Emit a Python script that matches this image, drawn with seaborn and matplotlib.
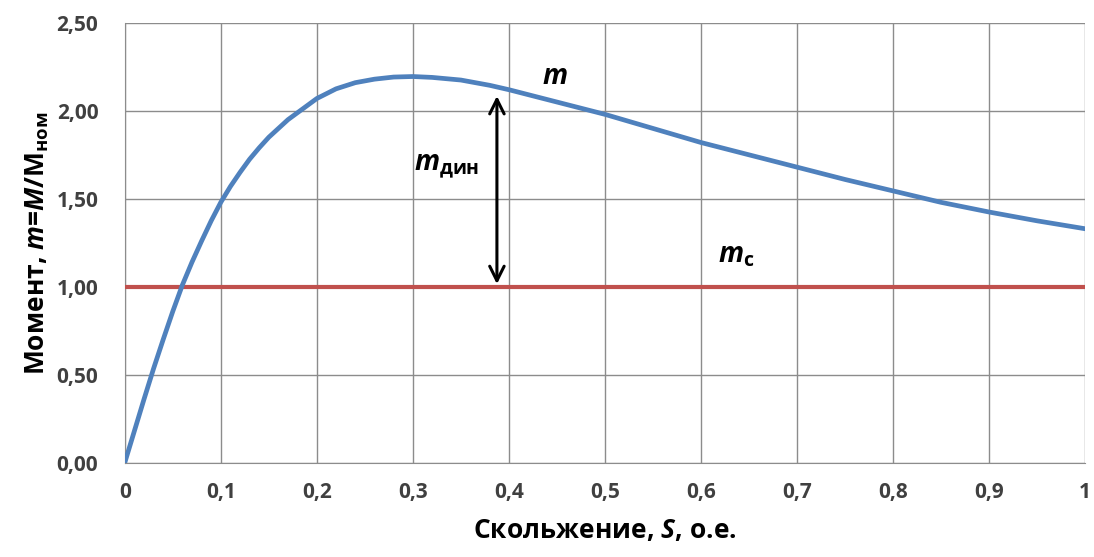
import matplotlib
matplotlib.use("Agg")
import matplotlib.pyplot as plt
import seaborn as sns
import pandas as pd

# ---- data ----
slip = [0.00, 0.01, 0.02, 0.03, 0.04, 0.05, 0.06, 0.07, 0.08, 0.09, 0.10,
        0.11, 0.12, 0.13, 0.14, 0.15, 0.16, 0.17, 0.18, 0.19, 0.20,
        0.22, 0.24, 0.26, 0.28, 0.30, 0.32, 0.35, 0.38, 0.40,
        0.45, 0.50, 0.55, 0.60, 0.65, 0.70, 0.75, 0.80, 0.85, 0.90, 0.95, 1.00]
moment = [0.00, 0.18, 0.36, 0.535, 0.70, 0.86, 1.01, 1.14, 1.26, 1.375, 1.48,
          1.57, 1.65, 1.725, 1.79, 1.85, 1.90, 1.95, 1.99, 2.03, 2.07,
          2.125, 2.16, 2.18, 2.192, 2.195, 2.19, 2.175, 2.145, 2.12,
          2.05, 1.98, 1.90, 1.82, 1.75, 1.68, 1.61, 1.545, 1.48, 1.425, 1.375, 1.33]
load_slip = [0.0, 1.0]
load_moment = [1.0, 1.0]

x_ticks = [0, 0.1, 0.2, 0.3, 0.4, 0.5, 0.6, 0.7, 0.8, 0.9, 1.0]
x_labels = ["0", "0,1", "0,2", "0,3", "0,4", "0,5", "0,6", "0,7", "0,8", "0,9", "1"]
y_ticks = [0.0, 0.5, 1.0, 1.5, 2.0, 2.5]
y_labels = ["0,00", "0,50", "1,00", "1,50", "2,00", "2,50"]

arrow_s = 0.3875
arrow_bottom = 1.0
arrow_top = 2.10

# ---- style ----
sns.set_style("whitegrid")
plt.rcParams["font.family"] = ["Open Sans", "DejaVu Sans"]
plt.rcParams["font.weight"] = "bold"
plt.rcParams["mathtext.fontset"] = "custom"
plt.rcParams["mathtext.rm"] = "Open Sans:bold"
plt.rcParams["mathtext.it"] = "Open Sans:italic:bold"
plt.rcParams["mathtext.bf"] = "Open Sans:bold"

fig = plt.figure(figsize=(10.94, 5.57), dpi=100)
ax = fig.add_axes([0.114, 0.169, 0.878, 0.79])

df = pd.DataFrame({"s": slip, "m": moment})
dfc = pd.DataFrame({"s": load_slip, "m": load_moment})
sns.lineplot(data=dfc, x="s", y="m", ax=ax, color="#C0504D", linewidth=3.0, zorder=3)
sns.lineplot(data=df, x="s", y="m", ax=ax, color="#4F81BD", linewidth=3.4, zorder=4)

ax.set_xlim(0, 1)
ax.set_ylim(0, 2.5)
ax.set_xticks(x_ticks)
ax.set_xticklabels(x_labels)
ax.set_yticks(y_ticks)
ax.set_yticklabels(y_labels)
ax.grid(True, color="#8c8c8c", linewidth=1.0)
for sp in ax.spines.values():
    sp.set_visible(False)
ax.spines["left"].set_visible(True)
ax.spines["bottom"].set_visible(True)
ax.spines["left"].set_color("#8c8c8c")
ax.spines["bottom"].set_color("#8c8c8c")
ax.tick_params(axis="both", which="major", length=7, width=1.0, color="#8c8c8c",
               labelsize=15, labelcolor="#404040", direction="out")
ax.tick_params(axis="x", pad=7)
ax.tick_params(axis="y", pad=12)
for lab in ax.get_xticklabels() + ax.get_yticklabels():
    lab.set_fontweight("bold")

ax.set_xlabel("Скольжение, $S$, о.е.", fontsize=19, fontweight="bold", color="#000000", labelpad=10)
ax.set_ylabel("Момент, $m$=$M$/$\\mathrm{M}_{\\mathrm{ном}}$", fontsize=19, fontweight="bold",
              color="#000000", labelpad=4)

ax.annotate("", xy=(arrow_s, arrow_top), xytext=(arrow_s, arrow_bottom),
            arrowprops=dict(arrowstyle="<->", color="black", lw=2.2, mutation_scale=26),
            zorder=5)

ax.text(0.448, 2.195, "$m$", fontsize=20, ha="center", va="center", color="black")
ax.text(0.335, 1.69, "$m_{\\mathrm{дин}}$", fontsize=20, ha="center", va="center", color="black")
ax.text(0.637, 1.18, "$m_{\\mathrm{с}}$", fontsize=20, ha="center", va="center", color="black")

fig.savefig("out.png", dpi=100)
